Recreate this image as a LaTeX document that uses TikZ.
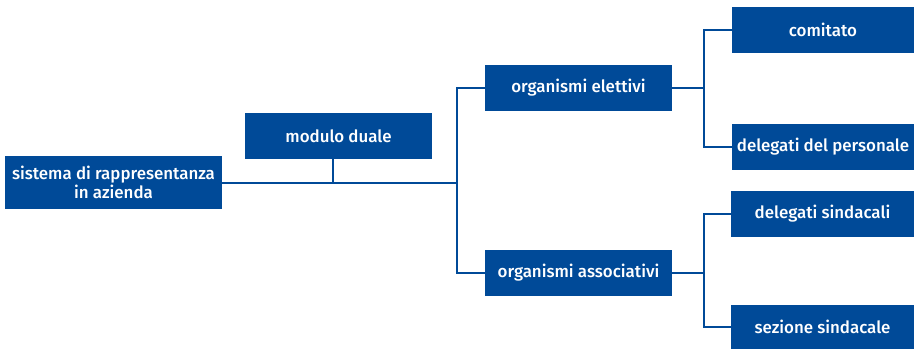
\documentclass[tikz,border=0pt]{standalone}
\usepackage{fontspec}
\setmainfont{Fira Sans}[UprightFont={* Medium}]
\definecolor{boxblue}{HTML}{004A98}
\begin{document}
\begin{tikzpicture}[x=1pt,y=-1pt,
  bx/.style={draw=none,fill=boxblue,text=white,inner sep=0pt,align=center,font=\fontsize{16.9}{19.5}\selectfont},
  ln/.style={draw=boxblue,line width=1.8pt}]
\useasboundingbox (0,0) rectangle (914,349);
\node[bx,minimum width=217pt,minimum height=53pt] (sis) at (113.5,182.5) {sistema di rappresentanza\\in azienda};
\node[bx,minimum width=187pt,minimum height=46pt] (mod) at (338.5,136) {modulo duale};
\node[bx,minimum width=187pt,minimum height=46pt] (ele) at (578.5,88) {organismi elettivi};
\node[bx,minimum width=187pt,minimum height=46pt] (ass) at (578.5,273) {organismi associativi};
\node[bx,minimum width=182pt,minimum height=46pt] (com) at (823,30) {comitato};
\node[bx,minimum width=182pt,minimum height=46pt] (dp) at (823,147) {delegati del personale};
\node[bx,minimum width=183pt,minimum height=46pt] (ds) at (822.5,214) {delegati sindacali};
\node[bx,minimum width=183pt,minimum height=44pt] (ss) at (822.5,327) {sezione sindacale};
\coordinate (j1) at (457,183);
\coordinate (j2) at (704,88);
\coordinate (j3) at (704,273);
\coordinate (mj) at (333,183);
\draw[ln] (sis.east |- j1) -- (j1);
\draw[ln] (mod.south -| mj) -- (mj);
\draw[ln] (ele.west) -| (j1) |- (ass.west);
\draw[ln] (ele.east) -- (j2);
\draw[ln] (com.west) -| (j2) |- (dp.west);
\draw[ln] (ass.east) -- (j3);
\draw[ln] (ds.west) -| (j3) |- (ss.west);
\end{tikzpicture}
\end{document}
